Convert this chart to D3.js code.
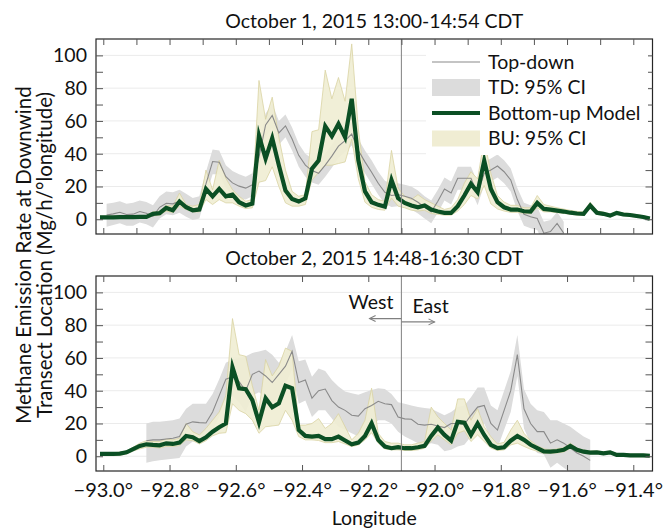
<!DOCTYPE html>
<html>
<head>
<meta charset="utf-8">
<script src="https://cdn.jsdelivr.net/npm/d3@7"></script>
<style>
  body { margin: 0; background: #fff; }
  svg { display: block; font-family: "Lato", "DejaVu Sans", sans-serif; }
</style>
</head>
<body>
<svg id="chart" width="666" height="531"></svg>
<script>
// longitude of each sample (same grid for both days)
const lon = [-93.01,-92.99,-92.97,-92.95,-92.93,-92.91,-92.89,-92.87,-92.85,-92.83,
  -92.81,-92.79,-92.77,-92.75,-92.73,-92.71,-92.69,-92.67,-92.65,-92.63,
  -92.61,-92.59,-92.57,-92.55,-92.53,-92.51,-92.49,-92.47,-92.45,-92.43,
  -92.41,-92.39,-92.37,-92.35,-92.33,-92.31,-92.29,-92.27,-92.25,-92.23,
  -92.21,-92.19,-92.17,-92.15,-92.13,-92.11,-92.09,-92.07,-92.05,-92.03,
  -92.01,-91.99,-91.97,-91.95,-91.93,-91.91,-91.89,-91.87,-91.85,-91.83,
  -91.81,-91.79,-91.77,-91.75,-91.73,-91.71,-91.69,-91.67,-91.65,-91.63,
  -91.61,-91.59,-91.57,-91.55,-91.53,-91.51,-91.49,-91.47,-91.45,-91.43,
  -91.41,-91.39,-91.37,-91.35];

// October 1 : bottom-up model and its 95% CI
const bu1 = [1.2,1.2,1.2,1.3,1.3,1.3,1.4,1.5,3.3,3.7,
  6.9,5.5,10.8,7.3,5.5,5.9,18.5,14,18.5,14,
  15,10.4,8.4,9.6,51,37,49.5,33,17.5,12.4,
  10.8,12.8,30.8,35.8,56.8,50.7,58.2,50,73.5,36,
  17,10.4,8.8,7.7,24,12.8,10,8.4,7.3,8.4,
  5.9,4.7,3.9,3.9,8,14.5,21.6,16.5,35.8,18.5,
  10.4,7.3,5.9,5.9,4.9,4.7,10,6.3,5.9,5.3,
  4.7,4,3.5,3.3,8.4,4,3.3,2.2,3.9,2.9,
  2.6,2,1.4,0.4];
const bu1Lo = [0.5,0.5,0.5,0.6,0.6,0.6,0.7,0.8,2,2.5,
  5,4,8,6,4.5,4.5,12,9,12,10,
  10,8,6.5,7,22.6,23.6,32,20,10,8,
  8,9,24,28.5,33,33,34,35,49,24.6,
  10.4,7.3,6,5.5,13,8,7,5.5,5,5.5,
  3.5,3,2.5,2.5,5,9,14.5,12.4,20.6,9.4,
  6.3,5,4.2,4.2,3.5,3.3,7,4.5,4.5,4,
  3.6,3,2.5,2.3,6.5,3,2.4,1.4,3,2.1,
  1.8,1.3,0.7,-0.3];
const bu1Hi = [2,2,2,2.1,2.1,2.1,2.2,2.3,4.5,5,
  8.5,8,16,9,8,9,30,18,36,25,
  18,14,11,12,84.7,61,74.5,50,30,17,
  14,15,53.5,54.6,91,73.5,86.5,72,107,55,
  23,15,12,11,42,19,14,12,15,12,
  10,8,6,7,12,22,29,24.6,49,28,
  14.5,10.5,8.5,8.5,7,7,14.5,9,8,7,
  6.2,5.4,4.8,4.5,10.4,5.2,4.3,3.2,4.8,3.8,
  3.5,2.8,2.2,1.1];

// October 1 : top-down estimate and its 95% CI (no value where null)
const td1 = [null,2.6,3.3,4.3,2.9,3.1,4.7,3.7,1.8,7.3,
  9.8,9.4,11,8.4,6.3,7.3,21.6,35.2,34.8,26,
  22.2,20.2,19,21,37.9,57.6,63.3,52.7,57,49,
  39,33,29.7,28,33,38.5,44.6,48,52,42,
  35,28.7,22,16.5,14.5,15,14,12.8,10.4,7.3,
  4.5,11,18.5,16,25,25,25,15.5,28,30,
  32.5,29,24,12,3,1.5,0.5,-8.5,-7.5,-2.5,
  -8.5,null,null,null,null,null,null,null,null,null,
  null,null,null,null];
const td1Lo = [null,-4.5,-3.5,-2.5,-4,-4,-2,-3,-5,0.5,
  3,2.5,4,1.5,-0.5,0.5,14.5,27.5,27.5,19,
  15,13,12,14,31,50.5,56,45.5,50,42,
  32,26,22.5,21,26,31.5,37.5,41,45,35,
  28,21.5,15,9.5,7.5,8,7,6,3.5,0.5,
  -2.5,4,11.5,9,18,18,18,8.5,21,23,
  25.5,22,17,5,-4,-5.5,-6.5,-15.5,-14.5,-9.5,
  -15.5,null,null,null,null,null,null,null,null,null,
  null,null,null,null];
const td1Hi = [null,9.5,10,11,9.5,10,11.5,10.5,8.5,14,
  17,16.5,18,15.5,13,14,29,42.5,42,33,
  29.5,27.5,26,28,45,64.5,70.5,60,64,56,
  46,40,37,35,40,45.5,51.5,55,59,49,
  42,36,29,23.5,21.5,22,21,20,17.5,14,
  11.5,18,25.5,23,32,32,32,22.5,35,37,
  39.5,36,31,19,10,8.5,7.5,-1.5,-0.5,4.5,
  -1.5,null,null,null,null,null,null,null,null,null,
  null,null,null,null];

// October 2 : bottom-up model and its 95% CI
const bu2 = [1.4,1.4,1.4,1.6,2.4,4.3,6.3,7.3,6.9,6.7,
  7.9,7.5,8.3,12.4,11.6,9.3,11.6,15,17.7,20,
  54.3,41.5,40.9,34.3,20.7,35.4,29.9,32.3,43,41.5,
  16,12.4,12,12.4,10.4,10.4,12,9.6,7.3,8.3,
  12.4,20.1,10,5.9,4.9,5.5,4.9,4.9,5.5,6.3,
  12.4,17.5,13,9.5,21,20.5,13,20,13,7,
  5,5.5,9.5,12.3,10,7,5,3,2.8,3.2,
  3.9,6.3,3.9,2.8,2.2,2.4,1.8,2.4,0.8,0.8,
  0.5,0.5,0.5,0.3];
const bu2Lo = [0.4,0.4,0.4,0.6,1.4,3.2,4.5,5.5,5.5,5,
  6,6,6.5,10,9.5,7.5,9.5,12.5,14,14.4,
  32,28,26,22,14,18,18.5,19,28,22,
  12,10,10,9.6,8.3,8.3,9,7.5,5.9,6.9,
  10,14.4,8,4.5,3.9,3.9,3.5,3.5,3.9,4.9,
  9.3,13,10,7,14,15.6,9,13,9,5,
  3.5,3.9,6.9,8,6,4.3,3,1.8,1.8,2,
  2.6,4.8,2.8,1.8,1.3,1.5,1,1.6,0,0,
  -0.3,-0.3,-0.3,-0.5];
const bu2Hi = [2.2,2.2,2.2,2.5,3.2,5.5,8,9.5,9,9,
  10.5,10,11,20,15,13,17,22,27,37,
  84,62,61,43,28,59,49,55,66,64,
  19,19,20,23,17,20,26,18,10,14,
  22,41.5,14,9,8,8,7,7,8,9,
  30,24,20,16,35,35,22,29,18,12,
  7.5,8.5,16,22,14,9.5,6.5,4.5,4,4.5,
  5.3,8,5,3.8,3.2,3.3,2.7,3.2,1.6,1.6,
  1.3,1.3,1.3,1.1];

// October 2 : top-down estimate and its 95% CI
const td2 = [null,null,null,null,null,null,null,9.5,10,10,
  10.5,11,12,19.5,21,20.5,20.3,27,37,47,
  48.5,45.5,40,50,52,49,45,50,55,64,
  45,46.5,35.5,40,41,34,30,28,25,24.5,
  29,31,33.5,32,31.5,24,22.8,22.6,19.5,19,
  19.5,18.5,17.5,20,20,19.5,25,30,31,20,
  16,28,40,62,29,20,15,15,8,10,
  8,5,2,0,-2.5,null,null,null,null,null,
  null,null,null,null];
const td2Lo = [null,null,null,null,null,null,null,-4,-3,-2.5,
  -2,-1.5,-1,6,9,9.5,10,16,24,36,
  37,33,27,37,39,36,32,37,44,53,
  32,34,24,28,28,23,18,16,14,12,
  17,19,22,22,20,15,12,10,8,7,
  8,7,3,4,6,7,12,18,20,10,
  5,16,27,49,17,8,2,1,-7,-4,
  -7,-10,-13,-15,-17,null,null,null,null,null,
  null,null,null,null];
const td2Hi = [null,null,null,null,null,null,null,20,21,21,
  21.5,22,23,29,32,32,32,38,47,57,
  59,60,61,63,64,65,62,57,64,74,
  58,59,48.5,53.5,52,46.5,42.5,39.5,38.5,37.5,
  39,40.5,41.5,41,38,33,32,31,30,29.5,
  29,27,25,27,30,31,36,42,42,31,
  28,40,52,74,41,32,28,27,22,22,
  20,18,15,12,10,null,null,null,null,null,
  null,null,null,null];

const yTicks = [0, 20, 40, 60, 80, 100];
const xTickLabels = [-93.0, -92.8, -92.6, -92.4, -92.2, -92.0, -91.8, -91.6, -91.4];
const divideLon = -92.1;

const legendItems = ["Top-down", "TD: 95% CI", "Bottom-up Model", "BU: 95% CI"];

/* styles */
const tdColor = '#8a8a8a';
const tdBand = '#dcdcdc';
const buColor = '#0b4f24';
const buBand = '#f0edd3';
const buBandEdge = '#d9d3a2';
const gridColor = '#ebebeb';
const frameColor = '#262626';
const fs = 19.5;

const plotLeft = 96, plotRight = 652.5, plotH = 195;
const panels = [
  { title: 'October 1, 2015 13:00-14:54 CDT', top: 39, bu: bu1, buLo: bu1Lo, buHi: bu1Hi, td: td1, tdLo: td1Lo, tdHi: td1Hi, xStep: 0.1, legend: true },
  { title: 'October 2, 2015 14:48-16:30 CDT', top: 276, bu: bu2, buLo: bu2Lo, buHi: bu2Hi, td: td2, tdLo: td2Lo, tdHi: td2Hi, xStep: 0.2, arrows: true }
];

const svg = d3.select('#chart');
const x = d3.scaleLinear().domain([-93.022, -91.342]).range([plotLeft, plotRight]);

const fmtLon = d => '\u2212' + Math.abs(d).toFixed(1) + '\u00b0';

function drawPanel(p, idx) {
  const y = d3.scaleLinear().domain([-9, 110]).range([p.top + plotH, p.top]);
  const g = svg.append('g');

  const rows = lon.map((l, i) => ({
    lon: l, bu: p.bu[i], buLo: p.buLo[i], buHi: p.buHi[i],
    td: p.td[i], tdLo: p.tdLo[i], tdHi: p.tdHi[i]
  }));

  svg.append('clipPath').attr('id', 'clip' + idx)
    .append('rect')
    .attr('x', plotLeft).attr('y', p.top)
    .attr('width', plotRight - plotLeft).attr('height', plotH);

  // grid
  g.selectAll('.grid').data(yTicks).enter().append('line')
    .attr('x1', plotLeft).attr('x2', plotRight)
    .attr('y1', d => y(d)).attr('y2', d => y(d))
    .attr('stroke', gridColor).attr('stroke-width', 1);

  const inner = g.append('g').attr('clip-path', 'url(#clip' + idx + ')');

  // TD confidence band
  inner.append('path').datum(rows)
    .attr('d', d3.area().defined(d => d.tdLo != null)
      .x(d => x(d.lon)).y0(d => y(d.tdLo)).y1(d => y(d.tdHi)))
    .attr('fill', tdBand);

  // BU confidence band
  inner.append('path').datum(rows)
    .attr('d', d3.area().x(d => x(d.lon)).y0(d => y(d.buLo)).y1(d => y(d.buHi)))
    .attr('fill', buBand).attr('fill-opacity', 0.9);
  inner.append('path').datum(rows)
    .attr('d', d3.line().x(d => x(d.lon)).y(d => y(d.buHi)))
    .attr('fill', 'none').attr('stroke', buBandEdge).attr('stroke-width', 0.8);
  inner.append('path').datum(rows)
    .attr('d', d3.line().x(d => x(d.lon)).y(d => y(d.buLo)))
    .attr('fill', 'none').attr('stroke', buBandEdge).attr('stroke-width', 0.8);

  // TD line
  inner.append('path').datum(rows)
    .attr('d', d3.line().defined(d => d.td != null).x(d => x(d.lon)).y(d => y(d.td)))
    .attr('fill', 'none').attr('stroke', tdColor).attr('stroke-width', 1.1);

  // BU line
  inner.append('path').datum(rows)
    .attr('d', d3.line().x(d => x(d.lon)).y(d => y(d.bu)))
    .attr('fill', 'none').attr('stroke', buColor).attr('stroke-width', 4.2)
    .attr('stroke-linejoin', 'miter').attr('stroke-miterlimit', 6);

  // west / east divide
  g.append('line')
    .attr('x1', x(divideLon)).attr('x2', x(divideLon))
    .attr('y1', p.top).attr('y2', p.top + plotH)
    .attr('stroke', '#8c8c8c').attr('stroke-width', 1.1);

  // frame
  g.append('rect')
    .attr('x', plotLeft).attr('y', p.top)
    .attr('width', plotRight - plotLeft).attr('height', plotH)
    .attr('fill', 'none').attr('stroke', frameColor).attr('stroke-width', 1.2);

  // y ticks (every 10, both sides, inward)
  const yMinor = y.ticks(11).filter(d => d >= 0 && d <= 100);
  g.append('g').attr('transform', 'translate(' + plotLeft + ',0)')
    .call(d3.axisRight(y).tickValues(yMinor).tickSize(7).tickFormat(''))
    .call(a => a.select('.domain').remove())
    .call(a => a.selectAll('line').attr('stroke', '#555'));
  g.append('g').attr('transform', 'translate(' + plotRight + ',0)')
    .call(d3.axisLeft(y).tickValues(yMinor).tickSize(7).tickFormat(''))
    .call(a => a.select('.domain').remove())
    .call(a => a.selectAll('line').attr('stroke', '#555'));

  // y labels
  g.selectAll('.ylab').data(yTicks).enter().append('text')
    .attr('x', plotLeft - 9).attr('y', d => y(d))
    .attr('dy', '0.35em').attr('text-anchor', 'end')
    .attr('font-size', fs).attr('fill', '#111')
    .text(d => d);

  // x ticks
  const xt = d3.range(-93.0, -91.39, p.xStep).map(d => +d.toFixed(1));
  g.append('g').attr('transform', 'translate(0,' + p.top + ')')
    .call(d3.axisBottom(x).tickValues(xt).tickSize(6).tickFormat(''))
    .call(a => a.select('.domain').remove())
    .call(a => a.selectAll('line').attr('stroke', '#555'));
  g.append('g').attr('transform', 'translate(0,' + (p.top + plotH) + ')')
    .call(d3.axisTop(x).tickValues(xt).tickSize(6).tickFormat(''))
    .call(a => a.select('.domain').remove())
    .call(a => a.selectAll('line').attr('stroke', '#555'));

  // title
  svg.append('text')
    .attr('x', (plotLeft + plotRight) / 2).attr('y', p.top - 11)
    .attr('text-anchor', 'middle').attr('font-size', fs).attr('fill', '#111')
    .text(p.title);

  if (p.legend) drawLegend(g);
  if (p.arrows) drawArrows(g, y);
  return y;
}

function drawLegend(g) {
  const lx = 432, ly = 62, dy = 25.5;
  const lg = g.append('g');
  lg.append('rect').attr('x', 426).attr('y', 47).attr('width', 222).attr('height', 108).attr('fill', '#fff');
  lg.append('line').attr('x1', lx).attr('x2', lx + 48).attr('y1', ly).attr('y2', ly)
    .attr('stroke', tdColor).attr('stroke-width', 1.2);
  lg.append('rect').attr('x', lx).attr('y', ly + dy - 8.5).attr('width', 48).attr('height', 17)
    .attr('fill', tdBand);
  lg.append('line').attr('x1', lx).attr('x2', lx + 48).attr('y1', ly + 2 * dy).attr('y2', ly + 2 * dy)
    .attr('stroke', buColor).attr('stroke-width', 4.2);
  lg.append('rect').attr('x', lx).attr('y', ly + 3 * dy - 8).attr('width', 48).attr('height', 16)
    .attr('fill', buBand);
  lg.selectAll('.lt').data(legendItems).enter().append('text')
    .attr('x', lx + 56).attr('y', (d, i) => ly + i * dy)
    .attr('dy', '0.35em').attr('font-size', fs).attr('fill', '#111')
    .text(d => d);
}

function drawArrows(g, y) {
  const xd = x(divideLon);
  const ag = g.append('g').attr('stroke', '#808080').attr('stroke-width', 1.1).attr('fill', 'none');
  const wy = y(84), ey = y(82);
  const wx = x(-92.196), ex = x(-92.0);
  ag.append('line').attr('x1', xd).attr('x2', wx).attr('y1', wy).attr('y2', wy);
  ag.append('path').attr('d', 'M' + (wx + 6) + ',' + (wy - 3) + 'L' + wx + ',' + wy + 'L' + (wx + 6) + ',' + (wy + 3));
  ag.append('line').attr('x1', xd).attr('x2', ex).attr('y1', ey).attr('y2', ey);
  ag.append('path').attr('d', 'M' + (ex - 6) + ',' + (ey - 3) + 'L' + ex + ',' + ey + 'L' + (ex - 6) + ',' + (ey + 3));

  g.append('text').attr('x', xd - 8).attr('y', y(89.8))
    .attr('text-anchor', 'end').attr('font-size', fs).attr('fill', '#111').text('West');
  g.append('text').attr('x', xd + 11).attr('y', y(87.6))
    .attr('font-size', fs).attr('fill', '#111').text('East');
}

panels.forEach((p, i) => drawPanel(p, i));

// shared x labels under the bottom panel
const bottom = panels[1].top + plotH;
svg.selectAll('.xlab').data(xTickLabels).enter().append('text')
  .attr('x', d => x(d)).attr('y', bottom + 26)
  .attr('text-anchor', 'middle').attr('font-size', 20).attr('fill', '#111')
  .text(fmtLon);

svg.append('text')
  .attr('x', (plotLeft + plotRight) / 2).attr('y', 525)
  .attr('text-anchor', 'middle').attr('font-size', fs).attr('fill', '#111')
  .text('Longitude');

// y axis title, two lines
const ymid = (panels[0].top + panels[1].top + plotH) / 2;
svg.append('text')
  .attr('transform', 'translate(31,' + ymid + ') rotate(-90)')
  .attr('text-anchor', 'middle').attr('font-size', 20.5).attr('fill', '#111')
  .text('Methane Emission Rate at Downwind');
svg.append('text')
  .attr('transform', 'translate(52,' + ymid + ') rotate(-90)')
  .attr('text-anchor', 'middle').attr('font-size', 20.5).attr('fill', '#111')
  .text('Transect Location (Mg/h/\u00b0longitude)');
</script>
</body>
</html>
